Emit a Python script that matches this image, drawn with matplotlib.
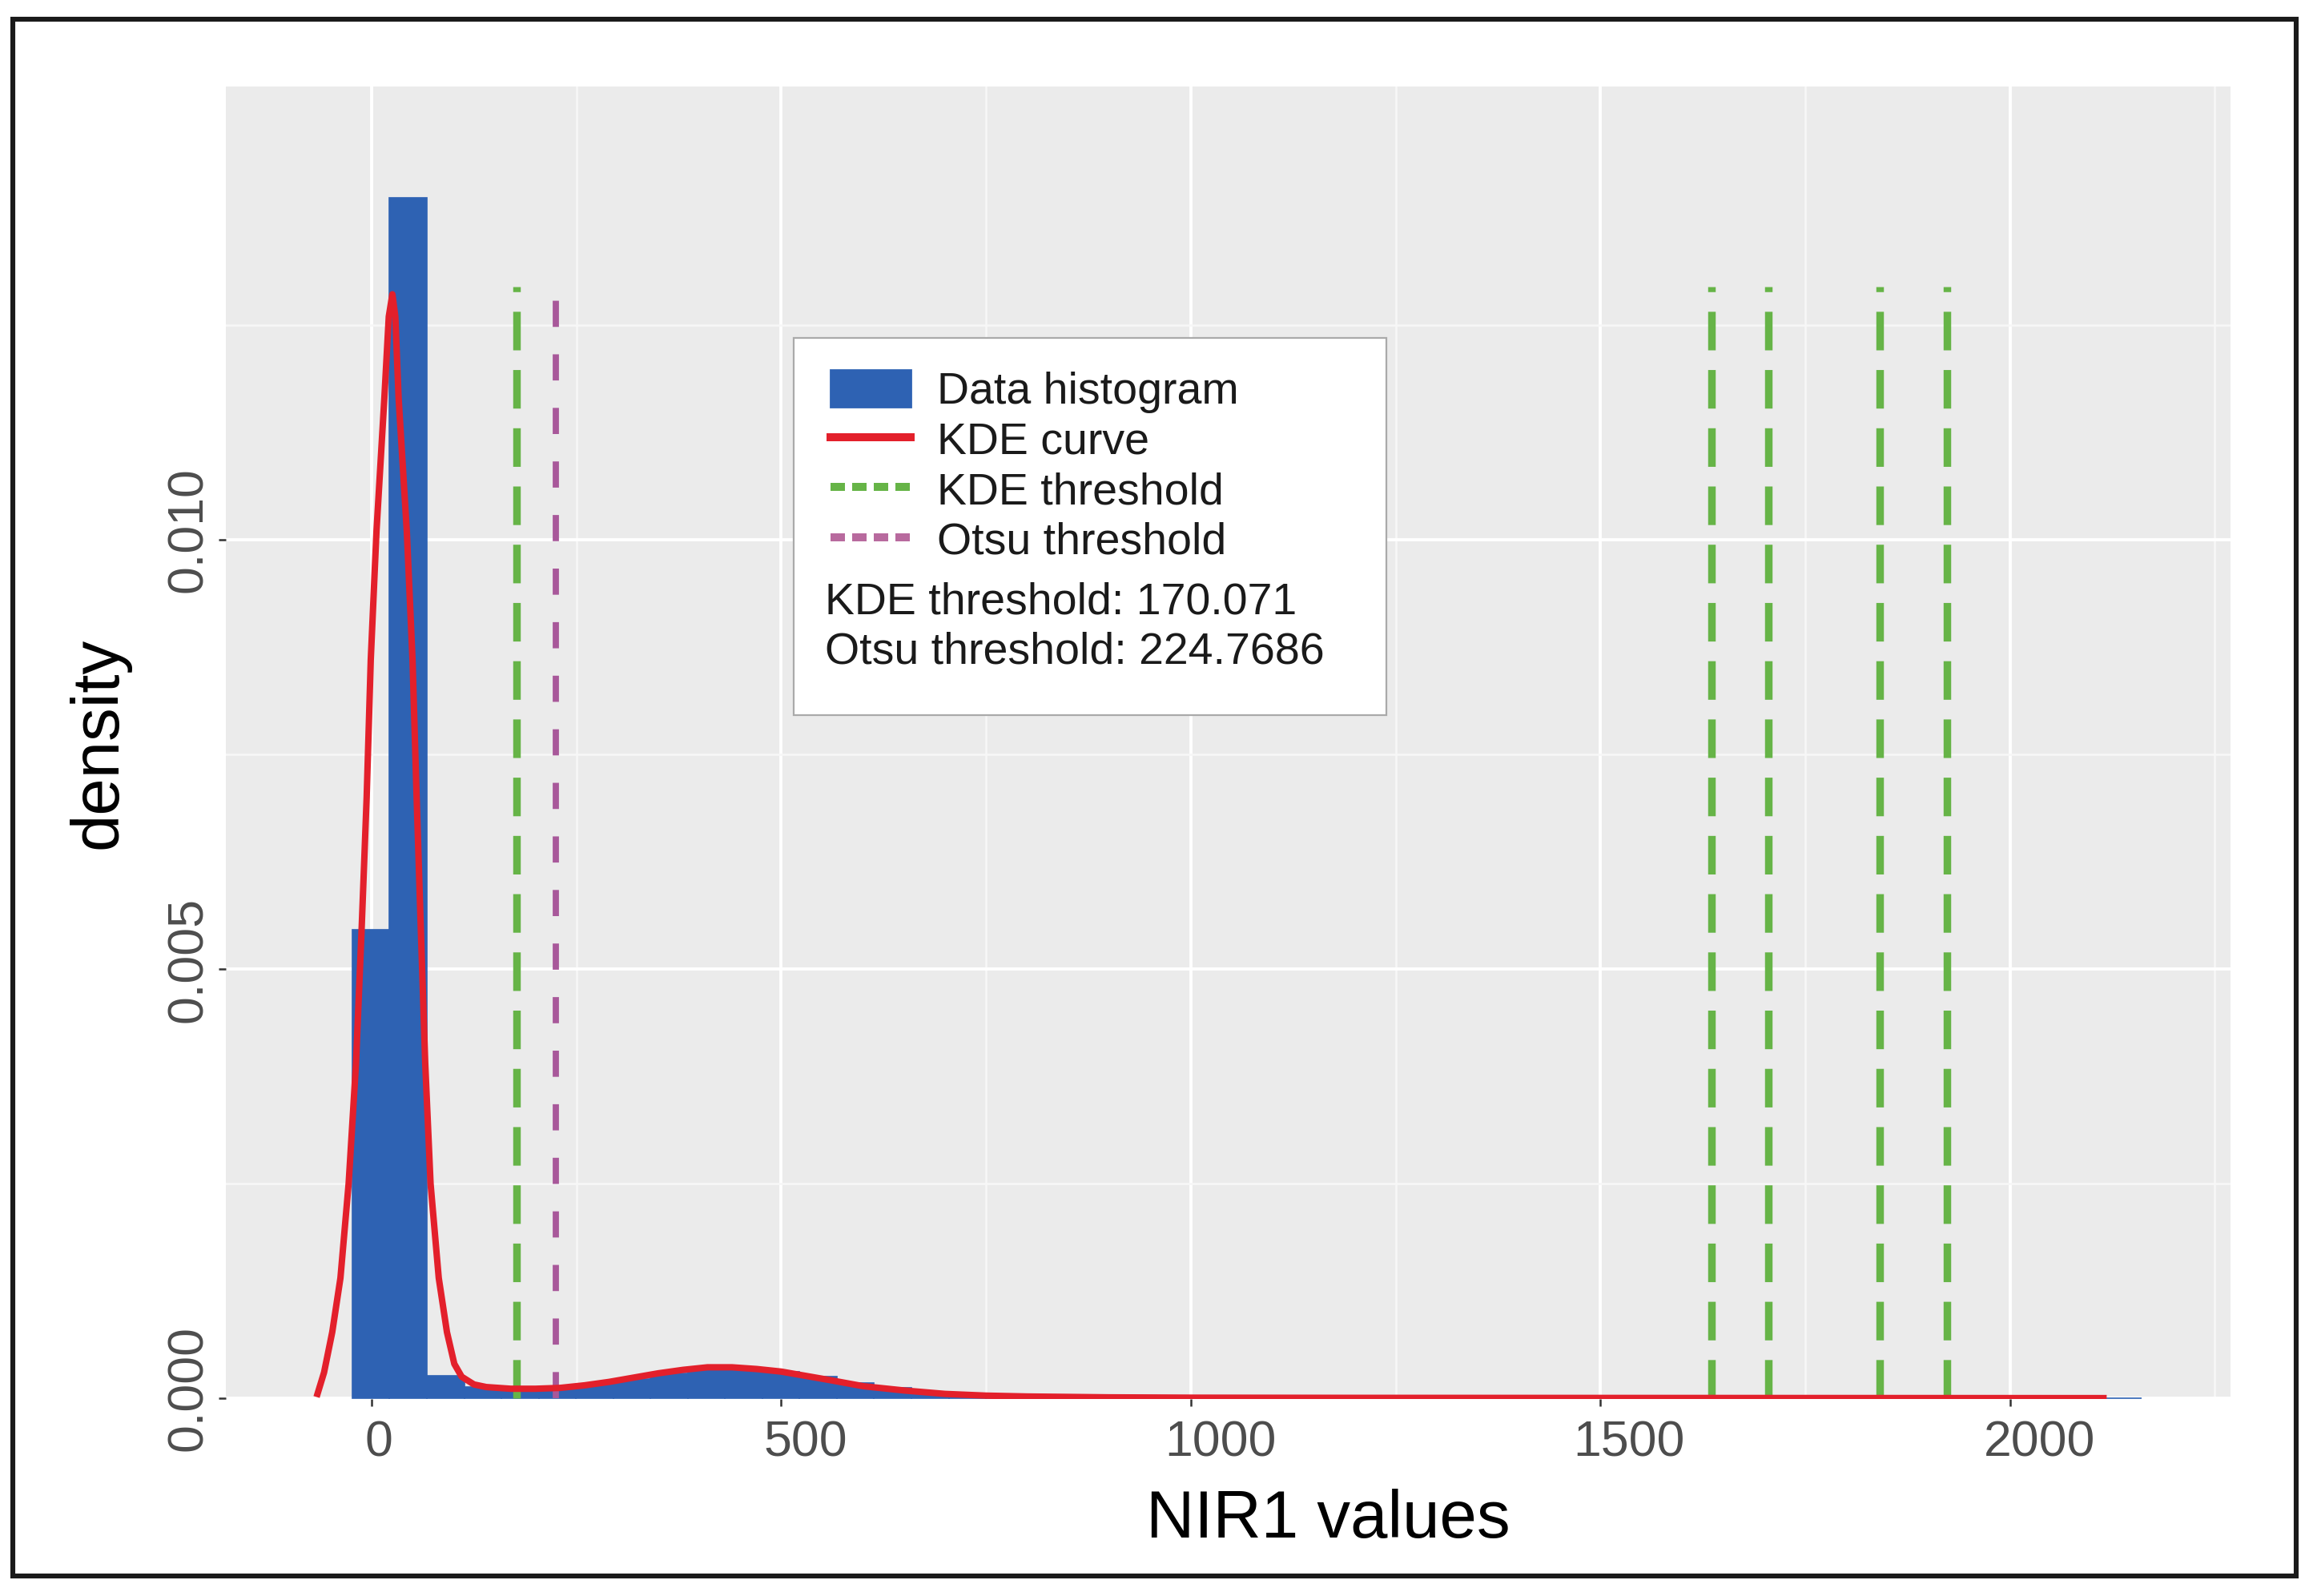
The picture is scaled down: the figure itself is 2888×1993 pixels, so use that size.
import matplotlib
matplotlib.use("Agg")
import matplotlib.pyplot as plt
from matplotlib.patches import Patch, Rectangle
from matplotlib.lines import Line2D
from matplotlib.transforms import ScaledTranslation

plt.rcParams["font.family"] = ["Liberation Sans", "DejaVu Sans"]

# histogram (density per bin), bins of equal width starting at BIN_START
BIN_START = -23.5
BIN_WIDTH = 45.5
hist_density = [
    0.00546, 0.01398, 0.00026, 0.00013, 0.00011, 0.00012, 0.00016, 0.00022,
    0.00029, 0.00034, 0.00035, 0.00031, 0.00025, 0.00018, 0.00012, 0.00007,
    0.00004, 0.00003, 0.00002, 0.000015, 0.000012, 0.00001, 0.00001, 0.000008,
    0.000008, 0.000007, 0.000006, 0.000006, 0.000005, 0.000005, 0.000004, 0.000004,
    0.000004, 0.000003, 0.000003, 0.000003, 0.000003, 0.000002, 0.000002, 0.000002,
    0.000002, 0.000002, 0.000002, 0.000001, 0.000001, 0.000001, 0.000001, 0.000001,
]

# KDE curve
kde_x = [-66, -58, -48, -38, -28, -19, -12, -6, -1, 6, 15.6, 21, 25.4, 29, 33,
         43, 50, 55, 60, 65.5, 72, 82, 92, 101, 110, 125, 140, 170, 200, 230,
         260, 290, 320, 350, 380, 410, 440, 470, 500, 530, 560, 600, 650, 700,
         750, 800, 900, 1000, 1200, 1500, 1800, 2114]
kde_y = [0.00005, 0.0003, 0.00077, 0.0014, 0.0025, 0.0039, 0.0055, 0.0070,
         0.0086, 0.0101, 0.01165, 0.0126, 0.01286, 0.0126, 0.01165,
         0.0101, 0.0086, 0.0070, 0.0055, 0.0039, 0.0025, 0.0014, 0.00077,
         0.0004, 0.00025, 0.00016, 0.00013, 0.00011, 0.00011, 0.00012,
         0.00015, 0.00019, 0.00024, 0.00029, 0.00033, 0.00036, 0.00036,
         0.00034, 0.00031, 0.00026, 0.00021, 0.00014, 0.00009, 0.00005,
         0.00003, 0.00002, 0.00001, 0.000006, 0.000004, 0.000003, 0.000002, 0.000001]

# threshold lines
kde_lines = [177, 1636, 1705, 1841, 1923]
kde_line_top = 0.01295
otsu_lines = [224.77]
otsu_line_top = 0.01288

legend_labels = ["Data histogram", "KDE curve", "KDE threshold", "Otsu threshold"]
stats_lines = ["KDE threshold: 170.071", "Otsu threshold: 224.7686"]

x_ticks = [0, 500, 1000, 1500, 2000]
y_ticks = [0.000, 0.005, 0.010]
y_tick_labels = ["0.000", "0.005", "0.010"]

BAR_COLOR = "#2e62b3"
KDE_COLOR = "#e3202b"
KDE_TH_COLOR = "#66b447"
OTSU_COLOR = "#a8589a"
PANEL_BG = "#ebebeb"

# the x tick labels in the source sit a little right of their ticks (pixels)
XLABEL_SHIFT = [9, 30, 37, 36, 37]


def main():
    fig = plt.figure(figsize=(14.44, 9.965), dpi=200)
    ax = fig.add_axes([0.0976, 0.1234, 0.8667, 0.8224])
    ax.set_facecolor(PANEL_BG)
    for s in ax.spines.values():
        s.set_visible(False)

    edges = [BIN_START + i * BIN_WIDTH for i in range(len(hist_density))]
    ax.bar(edges, hist_density, width=BIN_WIDTH, align="edge", color=BAR_COLOR,
           edgecolor=BAR_COLOR, linewidth=0.6, zorder=2)

    ax.plot(kde_x, kde_y, color=KDE_COLOR, lw=2.9, zorder=4, solid_joinstyle="round")

    ax.vlines(kde_lines, 0, kde_line_top, colors=KDE_TH_COLOR, lw=3.4,
              linestyles=(0, (5.1, 2.6)), zorder=3)
    ax.vlines(otsu_lines, 0, otsu_line_top, colors=OTSU_COLOR, lw=2.8,
              linestyles=(0, (4.2, 4.4)), zorder=3)

    ax.set_xlim(-178, 2269)
    ax.set_ylim(-0.00001, 0.01528)
    ax.set_xticks(x_ticks)
    ax.set_xticks([250, 750, 1250, 1750, 2250], minor=True)
    ax.set_yticks(y_ticks)
    ax.set_yticklabels(y_tick_labels)
    ax.set_yticks([0.0025, 0.0075, 0.0125], minor=True)
    ax.grid(which="major", color="white", lw=1.4)
    ax.grid(which="minor", color="#f7f7f7", lw=0.9)
    ax.set_axisbelow(True)
    ax.tick_params(which="minor", length=0)
    ax.tick_params(which="major", length=3.2, width=0.9, color="#333333",
                   labelsize=22.5, labelcolor="#4d4d4d")
    ax.tick_params(axis="x", pad=6)
    ax.tick_params(axis="y", pad=3)

    for lbl in ax.get_yticklabels():
        lbl.set_rotation(90)
        lbl.set_va("center")
        lbl.set_transform(lbl.get_transform() + ScaledTranslation(0, 12 / 200, fig.dpi_scale_trans))
    for lbl, dx in zip(ax.get_xticklabels(), XLABEL_SHIFT):
        lbl.set_transform(lbl.get_transform() + ScaledTranslation(dx / 200, 0, fig.dpi_scale_trans))

    ax.set_xlabel("NIR1 values", fontsize=30, color="black")
    ax.xaxis.set_label_coords(0.55, -0.068)
    ax.set_ylabel("density", fontsize=30, color="black")
    ax.yaxis.set_label_coords(-0.0475, 0.5)

    # legend box with the threshold values written under the entries
    ax.add_patch(Rectangle((0.2833, 0.521), 0.2956, 0.2874, transform=ax.transAxes,
                           facecolor="white", edgecolor="#aaaaaa", lw=0.8, zorder=5))
    handles = [
        Patch(facecolor=BAR_COLOR, edgecolor=BAR_COLOR),
        Line2D([], [], color=KDE_COLOR, lw=3.6),
        Line2D([], [], color=KDE_TH_COLOR, lw=3.6, linestyle=(0, (1.8, 0.9))),
        Line2D([], [], color="#b86a9e", lw=3.6, linestyle=(0, (1.8, 0.9))),
    ]
    leg = ax.legend(handles, legend_labels, loc="upper left", bbox_to_anchor=(0.3016, 0.784),
                    bbox_transform=ax.transAxes, frameon=False, fontsize=20,
                    handlelength=1.8, handleheight=0.9, handletextpad=0.6,
                    labelspacing=0.15, borderaxespad=0, borderpad=0)
    leg.set_zorder(6)
    for t in leg.get_texts():
        t.set_color("#1a1a1a")
    for i, line in enumerate(stats_lines):
        ax.text(0.2988, 0.6071 - i * 0.0379, line, transform=ax.transAxes, fontsize=20,
                color="#1a1a1a", va="center", ha="left", zorder=7)

    # outer frame
    fig.patches.append(Rectangle((16 / 2888, 1 - 1968 / 1993), 2851 / 2888, 1944 / 1993,
                                 transform=fig.transFigure, fill=False,
                                 edgecolor="#1a1a1a", lw=2.2))

    fig.savefig("out.png", dpi=200)


if __name__ == "__main__":
    main()
